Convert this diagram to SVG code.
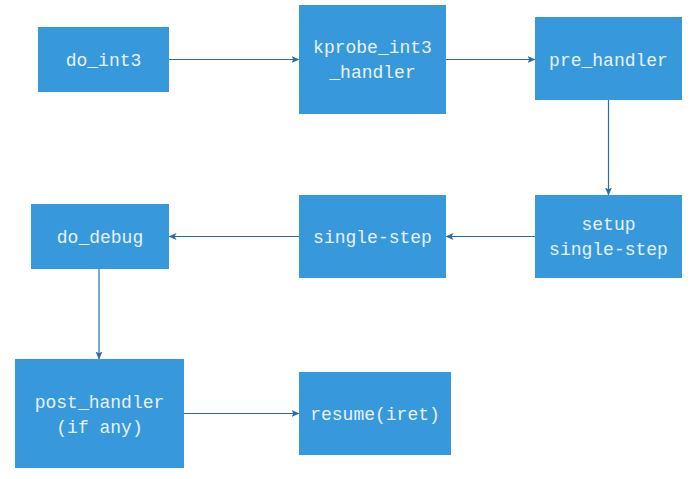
<svg xmlns="http://www.w3.org/2000/svg" width="698" height="479" viewBox="0 0 698 479">
<style>
.box{fill:#3799db}
.lbl{font-family:"Liberation Mono","DejaVu Sans Mono",monospace;font-size:18px;fill:#e8f2fb;text-anchor:middle}
.edge{stroke:#2a6ea6;stroke-width:1.2;fill:none;marker-end:url(#ah)}
</style>
<defs>
<marker id="ah" viewBox="0 0 8 8" refX="7.5" refY="4" markerWidth="8" markerHeight="8" markerUnits="userSpaceOnUse" orient="auto">
<path d="M0,0.5 L8,4 L0,7.5 L1.8,4 Z" fill="#2a6ea6"/>
</marker>
</defs>
<rect width="698" height="479" fill="#ffffff"/>
<g id="connectors">
<line class="edge" x1="169" y1="59.5" x2="299" y2="59.5"/>
<line class="edge" x1="446" y1="59.5" x2="535" y2="59.5"/>
<line class="edge" x1="608.5" y1="100" x2="608.5" y2="195"/>
<line class="edge" x1="535" y1="236.5" x2="446" y2="236.5"/>
<line class="edge" x1="299" y1="236.5" x2="169" y2="236.5"/>
<line class="edge" x1="99" y1="269" x2="99" y2="359"/>
<line class="edge" x1="184" y1="413.5" x2="299" y2="413.5"/>
</g>
<g id="do_int3">
<rect class="box" x="38" y="27" width="131" height="65"/>
<text class="lbl" x="103.5" y="65.5">do_int3</text>
</g>
<g id="kprobe_int3_handler">
<rect class="box" x="299" y="5" width="147" height="109"/>
<text class="lbl" x="372.5" y="53">kprobe_int3</text>
<text class="lbl" x="372.5" y="78">_handler</text>
</g>
<g id="pre_handler">
<rect class="box" x="535" y="17" width="147" height="83"/>
<text class="lbl" x="608.5" y="65.5">pre_handler</text>
</g>
<g id="setup_single_step">
<rect class="box" x="535" y="195" width="147" height="83"/>
<text class="lbl" x="608.5" y="230">setup</text>
<text class="lbl" x="608.5" y="255">single-step</text>
</g>
<g id="single_step">
<rect class="box" x="299" y="195" width="147" height="83"/>
<text class="lbl" x="372.5" y="242.5">single-step</text>
</g>
<g id="do_debug">
<rect class="box" x="31" y="204" width="138" height="65"/>
<text class="lbl" x="100" y="242.5">do_debug</text>
</g>
<g id="post_handler">
<rect class="box" x="15" y="359" width="169" height="109"/>
<text class="lbl" x="99.5" y="407.5">post_handler</text>
<text class="lbl" x="99.5" y="432.5">(if any)</text>
</g>
<g id="resume">
<rect class="box" x="299" y="372" width="152" height="83"/>
<text class="lbl" x="375" y="419.5">resume(iret)</text>
</g>
</svg>
